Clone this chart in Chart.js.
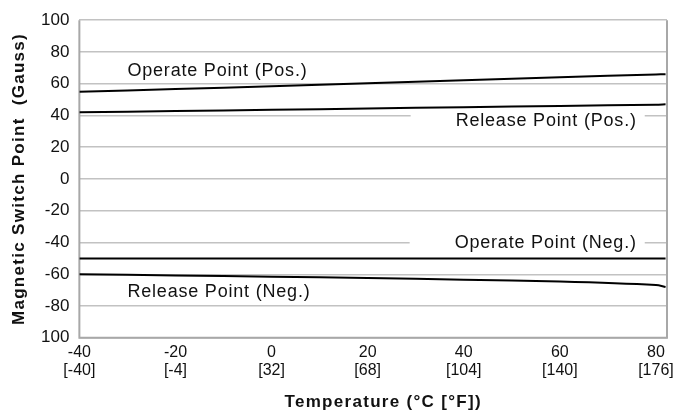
<!DOCTYPE html>
<html>
<head>
<meta charset="utf-8">
<script src="https://cdn.jsdelivr.net/npm/chart.js@4"></script>
<style>
  html, body { margin: 0; padding: 0; background: #fff; }
  #wrap { width: 673px; height: 418px; }
</style>
</head>
<body>
<div id="wrap"><canvas id="chart"></canvas></div>
<script>
const temps = [-40, -20, 0, 20, 40, 60, 80, 82];
const operatePos = [55, 56.6, 58.4, 60.3, 62.2, 64.1, 65.8, 66];
const releasePos = [42, 42.8, 43.6, 44.4, 45.2, 46, 46.8, 47];
const operateNeg = [-50, -50, -50, -50, -50, -50, -50, -50];
const releaseNeg = [-60, -60.7, -61.5, -62.4, -63.4, -64.6, -66.8, -68];

const xTicks = [-40, -20, 0, 20, 40, 60, 80];
const xTickLabels = [['-40', '[-40]'], ['-20', '[-4]'], ['0', '[32]'], ['20', '[68]'], ['40', '[104]'], ['60', '[140]'], ['80', '[176]']];
const yTicks = [100, 80, 60, 40, 20, 0, -20, -40, -60, -80, -100];
const yTickLabels = ['100', '80', '60', '40', '20', '0', '-20', '-40', '-60', '-80', '100'];

const xTitle = 'Temperature (°C [°F])';
const yTitle = 'Magnetic Switch Point  (Gauss)';

const curveLabels = [
    { text: 'Operate Point (Pos.)', x: -30, y: 68, align: 'left', bg: false },
    { text: 'Release Point (Pos.)', x: 76, y: 36.2, align: 'right', bg: true },
    { text: 'Operate Point (Neg.)', x: 76, y: -40.6, align: 'right', bg: true },
    { text: 'Release Point (Neg.)', x: -30, y: -71, align: 'left', bg: false }
];

function series(vals) {
    return temps.map((t, i) => ({ x: t, y: vals[i] }));
}

const lineStyle = {
    borderColor: '#000',
    borderWidth: 2,
    pointRadius: 0,
    tension: 0.3,
    fill: false
};

const FONT = '"Liberation Sans", Arial, sans-serif';

// frame, curve labels and axis titles
const extras = {
    id: 'extras',
    beforeDatasetsDraw(chart) {
        const { ctx, chartArea: a, scales } = chart;
        ctx.save();
        ctx.font = '18px ' + FONT;
        ctx.letterSpacing = '0.8px';
        ctx.textBaseline = 'middle';
        ctx.textAlign = 'left';
        curveLabels.forEach(l => {
            const px = scales.x.getPixelForValue(l.x);
            const py = scales.y.getPixelForValue(l.y);
            const w = ctx.measureText(l.text).width;
            const left = l.align === 'right' ? px - w : px;
            if (l.bg) {
                ctx.fillStyle = '#fff';
                ctx.fillRect(left - 45, py - 9, w + 53, 18);
            }
            ctx.fillStyle = '#111';
            ctx.fillText(l.text, left, py);
        });
        ctx.strokeStyle = '#a8a8a8';
        ctx.lineWidth = 2;
        ctx.beginPath();
        ctx.moveTo(a.left, a.top);
        ctx.lineTo(a.left, a.bottom);
        ctx.lineTo(a.right, a.bottom);
        ctx.lineTo(a.right, a.top);
        ctx.stroke();
        ctx.restore();
    },
    afterDraw(chart) {
        const { ctx, chartArea: a } = chart;
        ctx.save();
        ctx.font = 'bold 17px ' + FONT;
        ctx.letterSpacing = '1.3px';
        ctx.fillStyle = '#111';
        ctx.textAlign = 'center';
        ctx.textBaseline = 'middle';
        ctx.fillText(xTitle, (a.left + a.right) / 2 + 10, 402);
        ctx.translate(19, (a.top + a.bottom) / 2);
        ctx.rotate(-Math.PI / 2);
        ctx.fillText(yTitle, 0, 0);
        ctx.restore();
    }
};

new Chart(document.getElementById('chart'), {
    type: 'line',
    data: {
        datasets: [
            { label: 'Operate Point (Pos.)', data: series(operatePos), ...lineStyle },
            { label: 'Release Point (Pos.)', data: series(releasePos), ...lineStyle },
            { label: 'Operate Point (Neg.)', data: series(operateNeg), ...lineStyle },
            { label: 'Release Point (Neg.)', data: series(releaseNeg), ...lineStyle }
        ]
    },
    options: {
        responsive: true,
        maintainAspectRatio: false,
        animation: false,
        layout: { padding: { top: 9, right: 6, left: 31, bottom: 33 } },
        plugins: { legend: { display: false }, tooltip: { enabled: false } },
        scales: {
            x: {
                type: 'linear',
                min: -40,
                max: 82.3,
                afterBuildTicks: axis => { axis.ticks = xTicks.map(v => ({ value: v })); },
                afterFit: axis => { axis.paddingRight = 0; },
                grid: { display: false, drawTicks: false },
                border: { display: false },
                ticks: {
                    color: '#111',
                    maxRotation: 0,
                    autoSkip: false,
                    padding: 6,
                    font: { family: FONT, size: 16, lineHeight: 1.1 },
                    callback: (v) => xTickLabels[xTicks.indexOf(v)]
                }
            },
            y: {
                min: -100,
                max: 100,
                afterBuildTicks: axis => { axis.ticks = yTicks.map(v => ({ value: v })); },
                grid: { color: '#c2c2c2', lineWidth: 1.5, drawTicks: false },
                border: { display: false },
                ticks: {
                    color: '#111',
                    padding: 10,
                    font: { family: FONT, size: 17 },
                    callback: (v) => yTickLabels[yTicks.indexOf(v)]
                }
            }
        }
    },
    plugins: [extras]
});
</script>
</body>
</html>
